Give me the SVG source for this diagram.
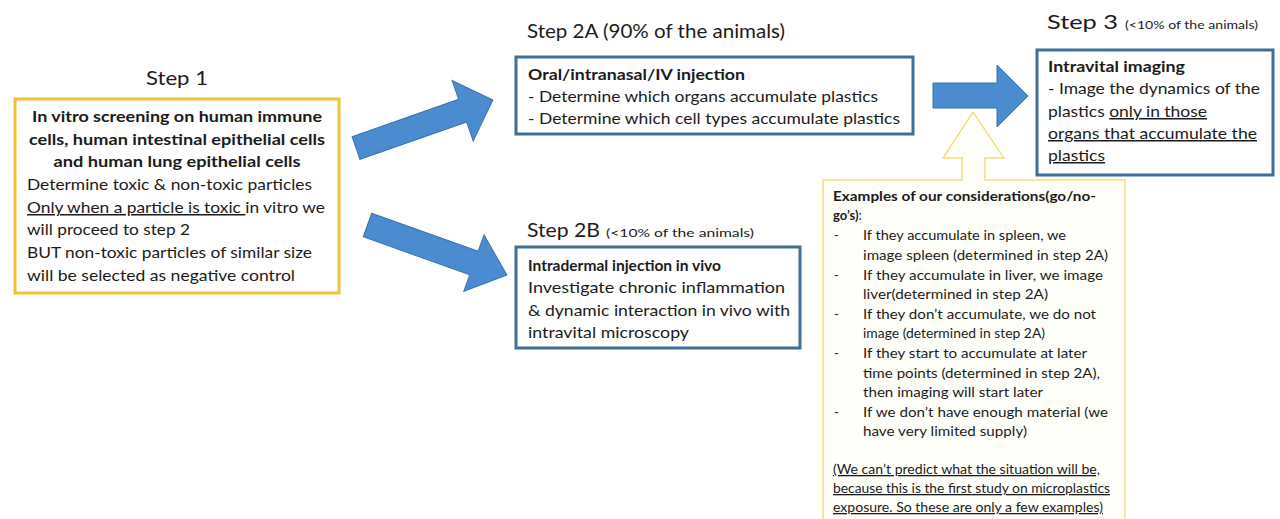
<svg xmlns="http://www.w3.org/2000/svg" width="1280" height="519" viewBox="0 0 1280 519">
<style>
text { font-family: Lato, "Liberation Sans", sans-serif; fill: #1b1b1b; }
.title { font-size: 20px; }
.sub { font-size: 12px; }
.b { font-weight: bold; }
.t15 { font-size: 15px; }
.t13 { font-size: 13px; }
.u { text-decoration: underline; }
.bluebox { fill: #ffffff; stroke: #3f6e97; stroke-width: 3; }
.arrow { fill: #4b8bd0; stroke: #3c72ad; stroke-width: 1; }
</style>
<rect width="1280" height="519" fill="#ffffff"/>

<g id="connectors">
  <polygon class="arrow" transform="translate(356,148) rotate(-19.3)" points="0,-12 113,-12 113,-32 145,0 113,32 113,12 0,12"/>
  <polygon class="arrow" transform="translate(367.5,225) rotate(19.7)" points="0,-12.5 113,-12.5 113,-30 148,0 113,30 113,12.5 0,12.5"/>
  <polygon class="arrow" points="933,83 997,83 997,65 1028,96 997,127 997,108 933,108"/>
</g>

<g id="step1">
  <text class="title" x="177" y="85" text-anchor="middle" textLength="62" lengthAdjust="spacingAndGlyphs">Step 1</text>
  <rect x="15" y="99" width="324" height="194" fill="#ffffff" stroke="#f3c132" stroke-width="3"/>
  <text class="t15 b" x="177" y="122" text-anchor="middle" textLength="290" lengthAdjust="spacingAndGlyphs">In vitro screening on human immune</text>
  <text class="t15 b" x="177" y="145" text-anchor="middle" textLength="296" lengthAdjust="spacingAndGlyphs">cells, human intestinal epithelial cells</text>
  <text class="t15 b" x="177" y="167" text-anchor="middle" textLength="247" lengthAdjust="spacingAndGlyphs">and human lung epithelial cells</text>
  <text class="t15" x="27" y="190" textLength="285" lengthAdjust="spacingAndGlyphs">Determine toxic &amp; non-toxic particles</text>
  <text class="t15" x="27" y="213" textLength="298" lengthAdjust="spacingAndGlyphs"><tspan class="u">Only when a particle is toxic </tspan>in vitro we</text>
  <text class="t15" x="27" y="235" textLength="163" lengthAdjust="spacingAndGlyphs">will proceed to step 2</text>
  <text class="t15" x="27" y="258" textLength="285" lengthAdjust="spacingAndGlyphs">BUT non-toxic particles of similar size</text>
  <text class="t15" x="27" y="281" textLength="268" lengthAdjust="spacingAndGlyphs">will be selected as negative control</text>
</g>

<g id="step2a">
  <text class="title" x="527" y="38" textLength="258" lengthAdjust="spacingAndGlyphs">Step 2A (90% of the animals)</text>
  <rect class="bluebox" x="516" y="57" width="397" height="77"/>
  <text class="t15 b" x="528" y="80" textLength="217" lengthAdjust="spacingAndGlyphs">Oral/intranasal/IV injection</text>
  <text class="t15" x="528" y="102" textLength="350" lengthAdjust="spacingAndGlyphs">- Determine which organs accumulate plastics</text>
  <text class="t15" x="528" y="124" textLength="372" lengthAdjust="spacingAndGlyphs">- Determine which cell types accumulate plastics</text>
</g>

<g id="step2b">
  <text class="title" x="527" y="237" textLength="73" lengthAdjust="spacingAndGlyphs">Step 2B</text>
  <text class="sub" x="606" y="237" textLength="148" lengthAdjust="spacingAndGlyphs">(&lt;10% of the animals)</text>
  <rect class="bluebox" x="516" y="247" width="284" height="101"/>
  <text class="t15 b" x="528" y="271" textLength="193" lengthAdjust="spacingAndGlyphs">Intradermal injection in vivo</text>
  <text class="t15" x="528" y="293" textLength="257" lengthAdjust="spacingAndGlyphs">Investigate chronic inflammation</text>
  <text class="t15" x="528" y="316" textLength="262" lengthAdjust="spacingAndGlyphs">&amp; dynamic interaction in vivo with</text>
  <text class="t15" x="528" y="338" textLength="161" lengthAdjust="spacingAndGlyphs">intravital microscopy</text>
</g>

<g id="step3">
  <text class="title" x="1047" y="29" textLength="71" lengthAdjust="spacingAndGlyphs">Step 3</text>
  <text class="sub" x="1125" y="29" textLength="133" lengthAdjust="spacingAndGlyphs">(&lt;10% of the animals)</text>
  <rect class="bluebox" x="1037" y="50" width="236" height="125"/>
  <text class="t15 b" x="1048" y="72" textLength="137" lengthAdjust="spacingAndGlyphs">Intravital imaging</text>
  <text class="t15" x="1048" y="94" textLength="212" lengthAdjust="spacingAndGlyphs">- Image the dynamics of the</text>
  <text class="t15" x="1048" y="117" textLength="159" lengthAdjust="spacingAndGlyphs">plastics <tspan class="u">only in those</tspan></text>
  <text class="t15 u" x="1048" y="139" textLength="209" lengthAdjust="spacingAndGlyphs">organs that accumulate the</text>
  <text class="t15 u" x="1048" y="161" textLength="57" lengthAdjust="spacingAndGlyphs">plastics</text>
</g>

<g id="considerations">
  <path d="M823,180 H962 V158 H943 L973,112 L1004,158 H985 V180 H1125 V530 H823 Z" fill="#fffffa" stroke="#f2e07e" stroke-width="1.5"/>
  <text class="t13 b" x="833" y="201" textLength="263" lengthAdjust="spacingAndGlyphs">Examples of our considerations(go/no-</text>
  <text class="t13" x="833" y="220"><tspan class="b">go’s)</tspan>:</text>
  <text class="t13" x="834" y="240">-</text>
  <text class="t13" x="863" y="240" textLength="203" lengthAdjust="spacingAndGlyphs">If they accumulate in spleen, we</text>
  <text class="t13" x="863" y="260" textLength="245" lengthAdjust="spacingAndGlyphs">image spleen (determined in step 2A)</text>
  <text class="t13" x="834" y="280">-</text>
  <text class="t13" x="863" y="280" textLength="240" lengthAdjust="spacingAndGlyphs">If they accumulate in liver, we image</text>
  <text class="t13" x="863" y="299" textLength="185" lengthAdjust="spacingAndGlyphs">liver(determined in step 2A)</text>
  <text class="t13" x="834" y="319">-</text>
  <text class="t13" x="863" y="319" textLength="233" lengthAdjust="spacingAndGlyphs">If they don’t accumulate, we do not</text>
  <text class="t13" x="863" y="338" textLength="182" lengthAdjust="spacingAndGlyphs">image (determined  in step 2A)</text>
  <text class="t13" x="834" y="358">-</text>
  <text class="t13" x="863" y="358" textLength="224" lengthAdjust="spacingAndGlyphs">If they start to accumulate at later</text>
  <text class="t13" x="863" y="378" textLength="237" lengthAdjust="spacingAndGlyphs">time points (determined in step 2A),</text>
  <text class="t13" x="863" y="397" textLength="180" lengthAdjust="spacingAndGlyphs">then imaging will start later</text>
  <text class="t13" x="834" y="417">-</text>
  <text class="t13" x="863" y="417" textLength="245" lengthAdjust="spacingAndGlyphs">If we don’t have enough material (we</text>
  <text class="t13" x="863" y="436" textLength="164" lengthAdjust="spacingAndGlyphs">have very limited supply)</text>
  <text class="t13 u" x="833" y="474" textLength="267" lengthAdjust="spacingAndGlyphs">(We can’t predict what the situation will be,</text>
  <text class="t13 u" x="833" y="493" textLength="277" lengthAdjust="spacingAndGlyphs">because this is the first study on microplastics</text>
  <text class="t13 u" x="833" y="512" textLength="270" lengthAdjust="spacingAndGlyphs">exposure. So these are only a few examples)</text>
</g>
</svg>
